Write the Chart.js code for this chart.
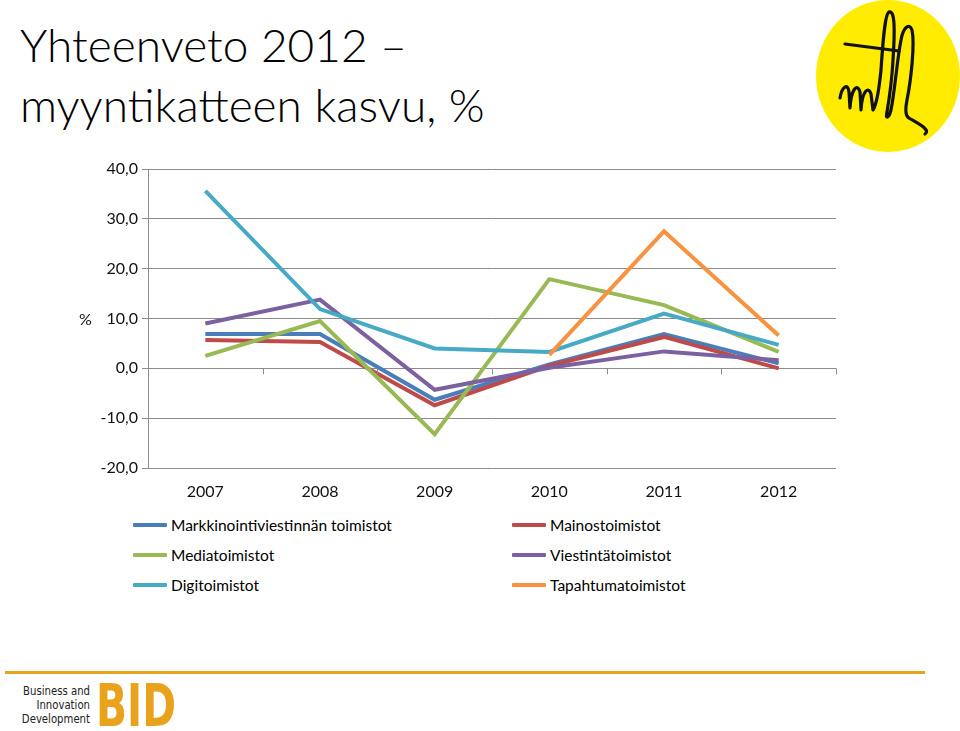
<!DOCTYPE html>
<html>
<head>
<meta charset="utf-8">
<script src="https://cdn.jsdelivr.net/npm/chart.js@4.4.1/dist/chart.umd.min.js"></script>
<style>
  html, body { margin: 0; padding: 0; background: #fff; }
  body { width: 960px; height: 731px; position: relative; overflow: hidden; font-family: Lato, "Noto Sans", sans-serif; color: #111; }
  #title { position: absolute; left: 20px; top: 15px; font-size: 46px; line-height: 60px; font-weight: 300; color: #000; }
  #logo { position: absolute; left: 815px; top: 0; }
  #chartWrap { position: absolute; left: 0; top: 150px; width: 860px; height: 360px; }
  #pct { position: absolute; left: 79px; top: 309px; font-size: 16px; }
  #legend { position: absolute; left: 133px; top: 514px; display: grid; grid-template-columns: 379px 300px; row-gap: 8px; font-size: 15.5px; color: #000; }
  #legend div { display: flex; align-items: center; height: 22px; }
  #legend span.sw { display: inline-block; width: 34px; height: 4px; margin-right: 4px; border-radius: 1px; }
  #rule { position: absolute; left: 5px; top: 671px; width: 920px; height: 3px; background: #e8a21c; }
  #bidText { position: absolute; left: 0; top: 684px; width: 90px; text-align: right; font-family: "DejaVu Sans Condensed", sans-serif; font-size: 12.5px; line-height: 14px; color: #222; transform: scaleX(0.9); transform-origin: right top; }
  #bid { position: absolute; left: 96px; top: 672px; font-family: "DejaVu Sans Condensed", sans-serif; font-weight: bold; font-size: 58px; color: #e8a21c; transform: scaleX(0.78); transform-origin: left top; }
</style>
</head>
<body>
<div id="title">Yhteenveto 2012 –<br>myyntikatteen kasvu, %</div>

<svg id="logo" width="145" height="155" viewBox="0 0 145 155">
  <ellipse cx="73" cy="76" rx="72" ry="76" fill="#ffec00"/>
  <g fill="none" stroke="#111" stroke-width="3.2" stroke-linecap="round" stroke-linejoin="round">
    <path d="M30 44 L84 51"/>
    <path d="M25 98 C27 86 33 83 34 92 L35 108 C36 90 42 82 45 92 L46 110 C47 92 53 85 56 94 L58 110 C62 104 64 90 66 70 C68 40 70 14 74 12 C80 10 80 30 78 60 C77 80 74 100 72 112 C70 120 74 118 76 110 C80 90 82 60 86 40 C88 28 94 22 97 30 C100 44 96 80 92 100 C90 110 90 116 94 118 C104 124 116 130 110 134"/>
  </g>
</svg>

<div id="chartWrap"><canvas id="chart" width="860" height="360"></canvas></div>
<div id="pct">%</div>
<div id="legend"></div>

<div id="rule"></div>
<div id="bidText">Business and<br>Innovation<br>Development</div>
<div id="bid">BID</div>

<script>
// Data
const years = ["2007", "2008", "2009", "2010", "2011", "2012"];
const seriesNames = [
  "Markkinointiviestinnän toimistot",
  "Mainostoimistot",
  "Mediatoimistot",
  "Viestintätoimistot",
  "Digitoimistot",
  "Tapahtumatoimistot"
];
const markkinointi = [6.9, 6.9, -6.3, 0.8, 6.9, 1.0];
const mainos = [5.7, 5.3, -7.4, 0.5, 6.3, 0.0];
const media = [2.5, 9.5, -13.2, 17.9, 12.7, 3.3];
const viestinta = [9.0, 13.8, -4.3, 0.1, 3.4, 1.6];
const digi = [35.6, 11.9, 4.0, 3.3, 11.0, 4.7];
const tapahtuma = [null, null, null, 2.7, 27.5, 6.6];
const yTicks = [-20, -10, 0, 10, 20, 30, 40];

const seriesValues = [markkinointi, mainos, media, viestinta, digi, tapahtuma];
const colors = ["#4a7ebb", "#be4b48", "#98b954", "#7d60a0", "#46aac5", "#f69240"];
const gridColor = "#8c8c8c";
const fmt = v => v.toFixed(1).replace(".", ",");

// small tick marks on the zero line, at category boundaries
const zeroTicks = {
  id: "zeroTicks",
  afterDraw(chart) {
    const { ctx, scales: { x, y } } = chart;
    const y0 = y.getPixelForValue(0);
    const n = years.length;
    const step = (x.right - x.left) / n;
    ctx.save();
    ctx.strokeStyle = gridColor;
    ctx.lineWidth = 1;
    ctx.beginPath();
    for (let i = 1; i <= n; i++) {
      const px = Math.round(x.left + i * step) + 0.5;
      ctx.moveTo(px, y0);
      ctx.lineTo(px, y0 + 6);
    }
    ctx.stroke();
    ctx.restore();
  }
};

const chart = new Chart(document.getElementById("chart"), {
  type: "line",
  data: {
    labels: years,
    datasets: seriesValues.map((vals, i) => ({
      label: seriesNames[i],
      data: vals,
      borderColor: colors[i],
      backgroundColor: colors[i],
      borderWidth: 4,
      pointRadius: 0,
      tension: 0,
      spanGaps: false,
      order: seriesValues.length - i
    }))
  },
  options: {
    responsive: false,
    animation: false,
    events: [],
    layout: { padding: { top: 19, right: 24, left: 0, bottom: 0 } },
    plugins: { legend: { display: false }, tooltip: { enabled: false } },
    scales: {
      x: {
        offset: true,
        grid: { display: false },
        border: { display: false },
        ticks: { color: "#111", font: { family: "Lato", size: 16 }, padding: 6, maxRotation: 0 },
        afterFit(s) { s.height = 42; }
      },
      y: {
        min: -20,
        max: 40,
        afterBuildTicks(s) { s.ticks = yTicks.map(v => ({ value: v })); },
        grid: { color: gridColor, lineWidth: 1, drawTicks: true, tickLength: 6 },
        border: { display: true, color: gridColor, width: 1 },
        ticks: { color: "#111", font: { family: "Lato", size: 16 }, padding: 4, callback: v => fmt(v) },
        afterFit(s) { s.width = 148; }
      }
    }
  },
  plugins: [zeroTicks]
});

// HTML legend, two columns
const legend = document.getElementById("legend");
seriesNames.forEach((name, i) => {
  const d = document.createElement("div");
  d.innerHTML = '<span class="sw" style="background:' + colors[i] + '"></span>' + name;
  legend.appendChild(d);
});
</script>
</body>
</html>
